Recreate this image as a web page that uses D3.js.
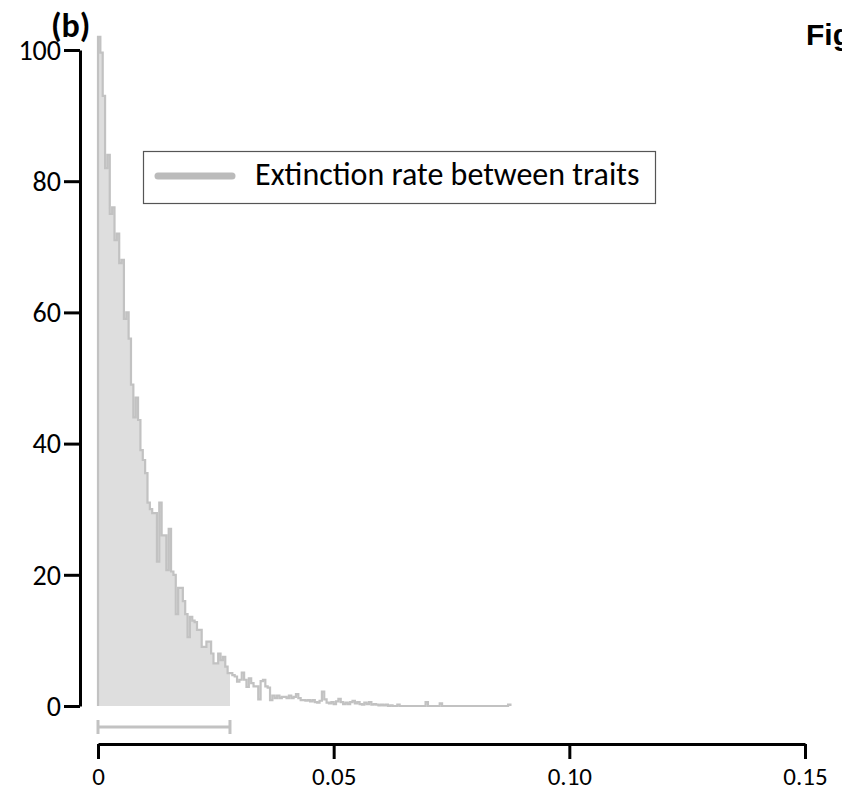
<!DOCTYPE html>
<html>
<head>
<meta charset="utf-8">
<script src="https://cdn.jsdelivr.net/npm/d3@7"></script>
<style>
  body { margin: 0; background: #fff; }
  svg { display: block; }
  text { font-family: Carlito, Calibri, Lato, sans-serif; }
</style>
</head>
<body>
<div id="chart"></div>
<script>
// ---- data ----
const binWidth = 0.0005;            // histogram bin width (rate units)
const counts = [
  102, 99.6, 93, 82, 84, 75, 76, 71, 72, 67.5,
  68, 59, 60, 56, 49, 44, 47, 43.6, 39, 37.5,
  35.5, 31, 30, 29.4, 29.4, 22, 31, 26, 26, 20.7,
  27, 20.5, 20, 14, 18, 18, 16, 14, 10.5, 13.6,
  13, 12.8, 11.6, 11.6, 9, 9, 9.8, 9.8, 8, 6.5,
  6.5, 8, 7, 7.5, 6, 5, 5, 4.7, 4.5, 3.7,
  4, 5.1, 4, 2.9, 4.2, 3.5, 3, 3, 1, 3.8,
  4, 3, 2.8, 0.9, 1.6, 1.2, 1.6, 1.2, 1.4, 1.4,
  1.2, 1.6, 1.2, 1.4, 1.8, 1.2, 0.9, 0.9, 0.8, 0.9,
  0.7, 0.9, 0.6, 0.5, 0.8, 2.2, 1, 0.5, 0.4, 0.6,
  0.3, 0.7, 1.1, 0.6, 0.3, 0.5, 0.3, 0.6, 0.8, 0.4,
  0.6, 0.3, 0.2, 0.5, 0.3, 0.6, 0.2, 0.3, 0.2, 0.1,
  0.2, 0.1, 0.2, 0, 0.1, 0, 0, 0.2, 0, 0,
  0, 0, 0, 0, 0, 0, 0, 0, 0, 0.6,
  0, 0, 0, 0, 0, 0.4, 0, 0, 0, 0,
  0, 0, 0, 0, 0, 0, 0, 0, 0, 0,
  0, 0, 0, 0, 0, 0, 0, 0, 0, 0,
  0, 0, 0, 0, 0.2
];
const intervalLow = 0;              // shaded interval / bar under the curve
const intervalHigh = 0.028;
const xTicks = [0, 0.05, 0.10, 0.15];
const xTickLabels = ['0', '0.05', '0.10', '0.15'];
const yTicks = [0, 20, 40, 60, 80, 100];
const legendLabel = 'Extinction rate between traits';
const panelLabel = '(b)';

// ---- layout ----
const width = 842, height = 794;
const svg = d3.select('#chart').append('svg')
  .attr('width', width)
  .attr('height', height);

const x = d3.scaleLinear().domain([0, 0.15]).range([98, 805]);
const y = d3.scaleLinear().domain([0, 100]).range([706, 50]);

const lineColor = '#c2c2c2';
const fillColor = '#dedede';

// histogram points (step after)
const pts = counts.map((c, i) => [i * binWidth, c]);
const lastX = counts.length * binWidth;
const linePts = [[0, 0], ...pts, [lastX, counts[counts.length - 1]], [lastX, 0]];

const nFill = Math.round((intervalHigh - intervalLow) / binWidth);
const fillPts = pts.slice(0, nFill).concat([[intervalHigh, counts[nFill - 1]]]);

const area = d3.area()
  .curve(d3.curveStepAfter)
  .x(d => x(d[0]))
  .y0(y(0))
  .y1(d => y(d[1]));

const line = d3.line()
  .curve(d3.curveStepAfter)
  .x(d => x(d[0]))
  .y(d => y(d[1]));

svg.append('path')
  .attr('d', area(fillPts))
  .attr('fill', fillColor);

svg.append('path')
  .attr('d', line(linePts))
  .attr('fill', 'none')
  .attr('stroke', lineColor)
  .attr('stroke-width', 2.2);

// interval bar below the histogram
const barY = 727;
const bar = svg.append('g')
  .attr('stroke', lineColor)
  .attr('stroke-width', 3);
bar.append('line')
  .attr('x1', x(intervalLow)).attr('x2', x(intervalHigh))
  .attr('y1', barY).attr('y2', barY);
[intervalLow, intervalHigh].forEach(v => {
  bar.append('line')
    .attr('x1', x(v)).attr('x2', x(v))
    .attr('y1', barY - 7).attr('y2', barY + 7);
});

// ---- axes ----
const yAxis = svg.append('g')
  .attr('transform', 'translate(80,0)')
  .call(d3.axisLeft(y).tickValues(yTicks).tickSize(16).tickSizeOuter(0).tickPadding(3));

const xAxis = svg.append('g')
  .attr('transform', 'translate(0,744)')
  .call(d3.axisBottom(x).tickValues(xTicks).tickSize(15).tickSizeOuter(0)
    .tickFormat((d, i) => xTickLabels[i]).tickPadding(8));

[yAxis, xAxis].forEach(g => {
  g.select('.domain').attr('stroke', '#000').attr('stroke-width', 3);
  g.selectAll('.tick line').attr('stroke', '#000').attr('stroke-width', 3);
  g.selectAll('.tick text')
    .attr('fill', '#000')
    .style('font-family', 'Carlito, Calibri, Lato, sans-serif');
});
yAxis.selectAll('.tick text').style('font-size', '28px').attr('dy', '0.33em');
xAxis.selectAll('.tick text').style('font-size', '25px').attr('dy', '0.71em');

// ---- legend ----
const legend = svg.append('g');
legend.append('rect')
  .attr('x', 143.5).attr('y', 151.5)
  .attr('width', 512).attr('height', 52)
  .attr('fill', '#fff')
  .attr('stroke', '#555')
  .attr('stroke-width', 1.2);
legend.append('line')
  .attr('x1', 158).attr('x2', 232)
  .attr('y1', 176).attr('y2', 176)
  .attr('stroke', '#bbbbbb')
  .attr('stroke-width', 7)
  .attr('stroke-linecap', 'round');
legend.append('text')
  .attr('x', 255).attr('y', 185)
  .style('font-size', '32px')
  .attr('fill', '#000')
  .text(legendLabel);

// ---- labels ----
svg.append('text')
  .attr('x', 51).attr('y', 37)
  .style('font-size', '34px')
  .style('font-weight', 'bold')
  .attr('fill', '#000')
  .text(panelLabel);

svg.append('text')
  .attr('x', 806).attr('y', 45)
  .style('font-family', '"Liberation Sans", Arial, sans-serif')
  .style('font-size', '30px')
  .style('font-weight', 'bold')
  .attr('fill', '#000')
  .text('Fig.');
</script>
</body>
</html>
